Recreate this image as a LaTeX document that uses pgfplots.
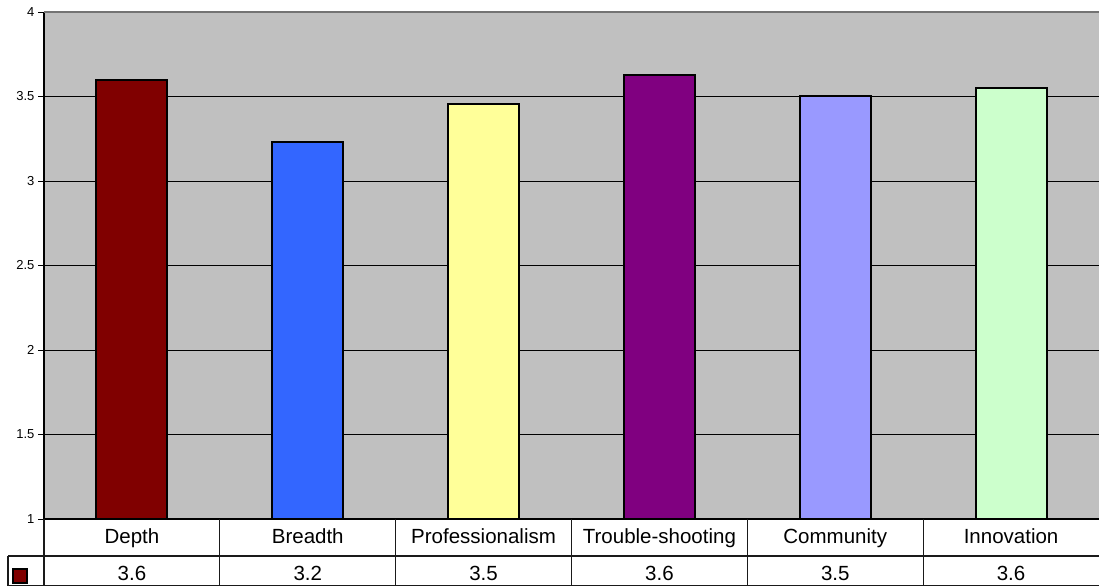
\documentclass[border=0pt]{standalone}
\usepackage{pgfplots}
\pgfplotsset{compat=1.18}
\usepackage{pgfplotstable}
\usepackage{fontspec}
\setmainfont{Liberation Sans}

\definecolor{plotbg}{HTML}{C0C0C0}
\definecolor{c0}{HTML}{800000}
\definecolor{c1}{HTML}{3366FF}
\definecolor{c2}{HTML}{FFFF99}
\definecolor{c3}{HTML}{800080}
\definecolor{c4}{HTML}{9999FF}
\definecolor{c5}{HTML}{CCFFCC}
\definecolor{tableline}{HTML}{1A1A1A}

\pgfplotstableread{
x name v
0 Depth 3.60
1 Breadth 3.23
2 Professionalism 3.455
3 Trouble-shooting 3.625
4 Community 3.50
5 Innovation 3.55
}\scores

\begin{document}
\begin{tikzpicture}[x=1pt,y=1pt]
\path[use as bounding box] (0,0) rectangle (1099,586);
\begin{axis}[
  at={(44pt,67pt)}, anchor=south west,
  width=1055pt, height=507pt, scale only axis,
  xmin=-0.5, xmax=5.5, ymin=1, ymax=4,
  axis x line=none,
  axis y line=left,
  axis line style={-, black, line width=1.3pt},
  xtick=\empty,
  ytick={1,1.5,...,4},
  ymajorgrids,
  major grid style={black, line width=0.9pt},
  tick align=outside,
  major tick length=6pt,
  ytick style={black, line width=0.9pt},
  yticklabel style={font=\fontsize{13}{15}\selectfont, /pgf/number format/assume math mode=true},
  axis background/.style={fill=plotbg},
  ybar, bar width=71pt,
]
\pgfplotsinvokeforeach{0,...,5}{
  \addplot[bar shift=0pt, fill=c#1, draw=black, line width=2pt,
           restrict x to domain=#1:#1] table[x=x, y=v] {\scores};
}
\end{axis}

% plot frame: grey top edge
\draw[gray!90!black, line width=1.8pt] (44,574) -- (1099,574);

% data table under the plot
\begin{scope}[draw=tableline, line width=1.2pt]
  \draw[black, line width=1.4pt] (44,67) -- (1099,67);
  \draw (8,30) -- (1099,30);
  \draw (8,0.6) -- (1099,0.6);
  \draw (8,30) -- (8,0);
  \draw (44,67) -- (44,0);
  \foreach \k in {1,...,5} {
    \draw ({44+175.8333*\k},67) -- ({44+175.8333*\k},0);
  }
\end{scope}

% legend key
\draw[fill=c0, draw=black, line width=1.5pt] (13,3) rectangle (27,17);

\foreach \i in {0,...,5} {
  \pgfplotstablegetelem{\i}{name}\of\scores
  \let\catname\pgfplotsretval
  \pgfplotstablegetelem{\i}{v}\of\scores
  \let\catval\pgfplotsretval
  \node[anchor=base, font=\fontsize{20.5}{24}\selectfont, inner sep=0pt]
    at ({44+175.8333*(\i+0.5)},42.7) {\catname};
  \node[anchor=base, font=\fontsize{20.5}{24}\selectfont, inner sep=0pt]
    at ({44+175.8333*(\i+0.5)},5.3)
    {\pgfmathprintnumber[fixed, precision=1, fixed zerofill, assume math mode=true]{\catval}};
}
\end{tikzpicture}
\end{document}
